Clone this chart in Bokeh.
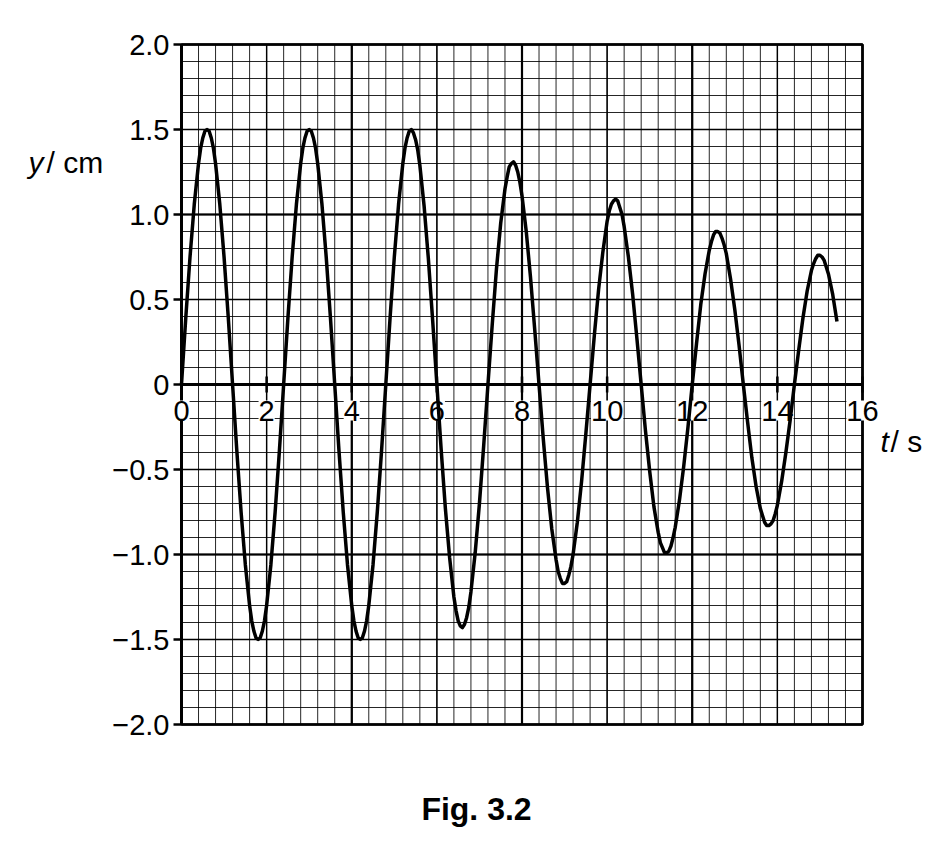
from bokeh.plotting import figure
from bokeh.models import Range1d, ColumnDataSource
from bokeh.core.properties import value
from bokeh.embed import file_html
from bokeh.resources import INLINE

# ---------------- data ----------------
T = [round(0.1 * k, 1) for k in range(155)]  # sample times, s (0.0 .. 15.4)
Y = [
    0, 0.39, 0.75, 1.06, 1.30, 1.45, 1.50, 1.45, 1.30, 1.06, 0.75, 0.39,
    0, -0.39, -0.75, -1.06, -1.30, -1.45, -1.50, -1.45, -1.30, -1.06, -0.75, -0.39,
    0, 0.39, 0.75, 1.06, 1.30, 1.45, 1.50, 1.45, 1.30, 1.06, 0.75, 0.39,
    0, -0.39, -0.75, -1.06, -1.30, -1.45, -1.50, -1.45, -1.30, -1.06, -0.75, -0.39,
    0, 0.39, 0.75, 1.06, 1.30, 1.45, 1.50, 1.44, 1.29, 1.05, 0.74, 0.38,
    0, -0.38, -0.73, -1.02, -1.25, -1.39, -1.43, -1.37, -1.22, -0.99, -0.70, -0.36,
    0, 0.35, 0.68, 0.95, 1.15, 1.28, 1.31, 1.25, 1.11, 0.90, 0.63, 0.32,
    0, -0.32, -0.61, -0.85, -1.03, -1.14, -1.17, -1.12, -1.00, -0.81, -0.57, -0.29,
    0, 0.29, 0.56, 0.78, 0.96, 1.06, 1.09, 1.04, 0.93, 0.75, 0.53, 0.27,
    0, -0.27, -0.51, -0.72, -0.87, -0.96, -0.99, -0.95, -0.84, -0.68, -0.48, -0.25,
    0, 0.24, 0.47, 0.65, 0.79, 0.88, 0.90, 0.86, 0.77, 0.62, 0.44, 0.23,
    0, -0.22, -0.43, -0.60, -0.73, -0.81, -0.83, -0.80, -0.71, -0.57, -0.40, -0.21,
    0, 0.20, 0.39, 0.55, 0.67, 0.74, 0.76, 0.73, 0.65, 0.53, 0.37,
]  # displacement, cm

# extra readings around each crest / trough
T_EXTRA = [
    0.45, 0.55, 0.65, 0.75, 1.65, 1.75, 1.85, 1.95,
    2.85, 2.95, 3.05, 3.15, 4.05, 4.15, 4.25, 4.35,
    5.25, 5.35, 5.45, 5.55, 6.45, 6.55, 6.65, 6.75,
    7.65, 7.75, 7.85, 7.95, 8.85, 8.95, 9.05, 9.15,
    10.05, 10.15, 10.25, 10.35, 11.25, 11.35, 11.45, 11.55,
    12.45, 12.55, 12.65, 12.75, 13.65, 13.75, 13.85, 13.95,
    14.85, 14.95, 15.05, 15.15,
]
Y_EXTRA = [
    1.39, 1.49, 1.49, 1.39, -1.39, -1.49, -1.49, -1.39,
    1.39, 1.49, 1.49, 1.39, -1.39, -1.49, -1.49, -1.39,
    1.39, 1.49, 1.48, 1.38, -1.33, -1.42, -1.41, -1.31,
    1.22, 1.30, 1.29, 1.19, -1.10, -1.17, -1.16, -1.07,
    1.02, 1.08, 1.08, 1.00, -0.93, -0.99, -0.98, -0.90,
    0.84, 0.90, 0.89, 0.82, -0.77, -0.83, -0.82, -0.76,
    0.71, 0.76, 0.75, 0.69,
]

X_TICKS = [0, 2, 4, 6, 8, 10, 12, 14, 16]
X_LABELS = ["0", "2", "4", "6", "8", "10", "12", "14", "16"]
Y_TICKS = [-2.0, -1.5, -1.0, -0.5, 0.0, 0.5, 1.0, 1.5, 2.0]
Y_LABELS = ["\u22122.0", "\u22121.5", "\u22121.0", "\u22120.5", "0", "0.5", "1.0", "1.5", "2.0"]

X_TITLE_VAR, X_TITLE_UNIT = "t", "/ s"
Y_TITLE_VAR, Y_TITLE_UNIT = "y", "/ cm"
CAPTION = "Fig. 3.2"

# ---------------- layout (pixels) ----------------
W, H = 944, 850
FX0, FX1 = 181, 862      # paper left / right in page px
FY0, FY1 = 44, 724       # paper top / bottom in page px
XMIN, XMAX = X_TICKS[0], X_TICKS[-1]
YMIN, YMAX = Y_TICKS[0], Y_TICKS[-1]
PX_X = (FX1 - FX0) / (XMAX - XMIN)
PX_Y = (FY1 - FY0) / (YMAX - YMIN)

def dx(px):
    return px / PX_X

def dy(px):
    return px / PX_Y

p = figure(
    width=W, height=H,
    x_range=Range1d(XMIN - dx(FX0), XMAX + dx(W - FX1)),
    y_range=Range1d(YMIN - dy(H - FY1), YMAX + dy(FY0)),
    x_axis_location=None, y_axis_location=None,
    output_backend="svg", toolbar_location=None, min_border=0,
)
p.outline_line_color = None
p.background_fill_color = "white"
p.border_fill_color = "white"
for g in p.grid:
    g.visible = False

FONT = value("Liberation Sans")

# ---------------- graph paper ----------------
def paper(step_x, step_y, width, alpha):
    nx = int(round((XMAX - XMIN) / step_x))
    ny = int(round((YMAX - YMIN) / step_y))
    gx = [XMIN + step_x * i for i in range(nx + 1)]
    gy = [YMIN + step_y * i for i in range(ny + 1)]
    p.segment(x0=gx, y0=[YMIN] * len(gx), x1=gx, y1=[YMAX] * len(gx),
              line_color="black", line_alpha=alpha, line_width=width)
    p.segment(x0=[XMIN] * len(gy), y0=gy, x1=[XMAX] * len(gy), y1=gy,
              line_color="black", line_alpha=alpha, line_width=width)

paper(0.4, 0.1, 1.0, 0.85)
paper(2.0, 0.5, 1.4, 1.0)
paper(4.0, 1.0, 2.2, 1.0)

# frame of the paper
p.quad(left=[XMIN], right=[XMAX], bottom=[YMIN], top=[YMAX],
       fill_color=None, line_color="black", line_width=2.5)
# y axis (left edge)
p.segment(x0=[XMIN], y0=[YMIN], x1=[XMIN], y1=[YMAX], line_color="black", line_width=3)
p.segment(x0=[XMIN - dx(8)] * len(Y_TICKS), y0=Y_TICKS, x1=[XMIN] * len(Y_TICKS), y1=Y_TICKS,
          line_color="black", line_width=2.5)
p.text(x=[XMIN] * len(Y_TICKS), y=Y_TICKS, text=Y_LABELS, x_offset=-12,
       text_align="right", text_baseline="middle", text_font=FONT,
       text_font_size="29px", text_color="black")

# x axis along y = 0
p.segment(x0=[XMIN], y0=[0], x1=[XMAX], y1=[0], line_color="black", line_width=3)
xs = ColumnDataSource(dict(x=X_TICKS, y=[0] * len(X_TICKS), text=X_LABELS))
p.text(x="x", y="y", text="text", source=xs, y_offset=26,
       text_align="center", text_baseline="middle", text_font=FONT,
       text_font_size="29px", text_color="black",
       background_fill_color="white", padding=0)
p.segment(x0=X_TICKS, y0=[-dy(8)] * len(X_TICKS), x1=X_TICKS, y1=[dy(8)] * len(X_TICKS),
          line_color="black", line_width=2.5)

# ---------------- the curve ----------------
pts = sorted(zip(T + T_EXTRA, Y + Y_EXTRA))
p.line([a for a, _ in pts], [b for _, b in pts], line_color="black", line_width=3.5,
       line_join="round")

# ---------------- titles ----------------
def title_text(x, y, txt, style="normal", size="30px", align="left", baseline="alphabetic"):
    p.text(x=[x], y=[y], text=[txt], text_font=FONT, text_font_size=size,
           text_font_style=style, text_align=align, text_baseline=baseline,
           text_color="black")

title_text(XMIN - dx(153), dy(384 - 162), Y_TITLE_VAR, style="italic")
title_text(XMIN - dx(135), dy(384 - 162), Y_TITLE_UNIT)
title_text(XMIN + dx(880 - FX0), -dy(441 - 384), X_TITLE_VAR, style="italic")
title_text(XMIN + dx(890 - FX0), -dy(441 - 384), X_TITLE_UNIT)
title_text(XMIN + dx(476 - FX0), -dy(808 - 384), CAPTION, style="bold", size="32px",
           align="center", baseline="middle")

open("out.html", "w").write(file_html(p, INLINE))
